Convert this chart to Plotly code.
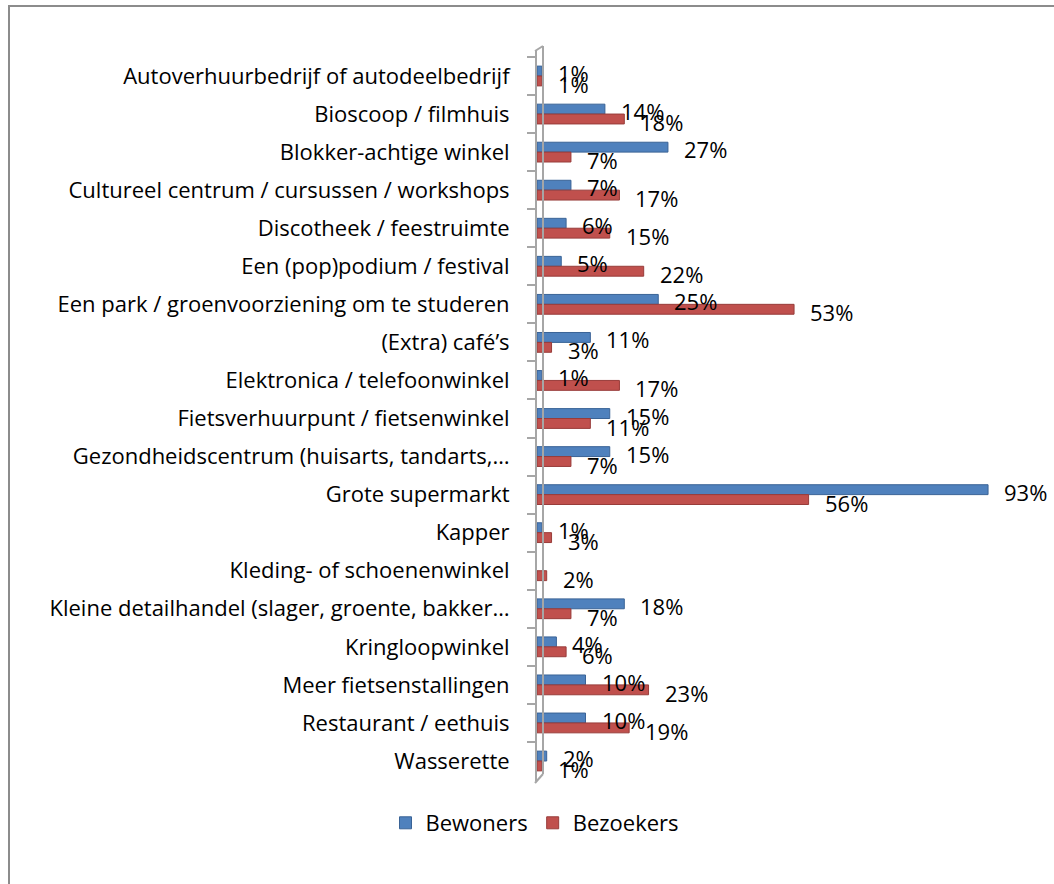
import plotly.graph_objects as go

categories = [
    "Autoverhuurbedrijf of autodeelbedrijf",
    "Bioscoop / filmhuis",
    "Blokker-achtige winkel",
    "Cultureel centrum / cursussen / workshops",
    "Discotheek / feestruimte",
    "Een (pop)podium / festival",
    "Een park / groenvoorziening om te studeren",
    "(Extra) café’s",
    "Elektronica / telefoonwinkel",
    "Fietsverhuurpunt / fietsenwinkel",
    "Gezondheidscentrum (huisarts, tandarts,…",
    "Grote supermarkt",
    "Kapper",
    "Kleding- of schoenenwinkel",
    "Kleine detailhandel (slager, groente, bakker…",
    "Kringloopwinkel",
    "Meer fietsenstallingen",
    "Restaurant / eethuis",
    "Wasserette",
]
bewoners = [1, 14, 27, 7, 6, 5, 25, 11, 1, 15, 15, 93, 1, None, 18, 4, 10, 10, 2]
bezoekers = [1, 18, 7, 17, 15, 22, 53, 3, 17, 11, 7, 56, 3, 2, 7, 6, 23, 19, 1]

BLUE = "#4F81BD"
RED = "#C0504D"
FONT = "Open Sans"
FSIZE = 22

# plot area in pixels (used to place the frame / wall shapes)
L, R, T, B = 537, 1022, 51, 781
W, H = 1054, 884


def px(x):
    return (x - L) / (R - L)


def py(y):
    return (B - y) / (B - T)


fig = go.Figure()
fig.add_trace(go.Bar(
    name="Bewoners", y=categories, x=bewoners, orientation="h",
    marker=dict(color=BLUE, line=dict(color="#3A6396", width=1)),
))
fig.add_trace(go.Bar(
    name="Bezoekers", y=categories, x=bezoekers, orientation="h",
    marker=dict(color=RED, line=dict(color="#983C3A", width=1)),
))

annotations = []
for cat, v in zip(categories, bewoners):
    if v is None:
        continue
    annotations.append(dict(x=v, y=cat, text=f"{v}%", showarrow=False,
                            xanchor="left", xshift=14, yshift=3,
                            font=dict(size=FSIZE, color="black", family=FONT)))
for cat, v in zip(categories, bezoekers):
    annotations.append(dict(x=v, y=cat, text=f"{v}%", showarrow=False,
                            xanchor="left", xshift=14, yshift=-8,
                            font=dict(size=FSIZE, color="black", family=FONT)))

wall = dict(color="#A6A6A6", width=2)
shapes = [
    # outer chart frame
    dict(type="rect", xref="paper", yref="paper",
         x0=px(9), x1=px(W + 10), y0=py(H + 10), y1=py(6),
         line=dict(color="#8C8C8C", width=2), fillcolor="rgba(0,0,0,0)", layer="below"),
    # 3D wall: back line and connecting diagonals
    dict(type="line", xref="paper", yref="paper",
         x0=px(543), x1=px(543), y0=py(774), y1=py(46), line=wall),
    dict(type="line", xref="paper", yref="paper",
         x0=px(535), x1=px(543), y0=py(T), y1=py(46), line=wall),
    dict(type="line", xref="paper", yref="paper",
         x0=px(535), x1=px(543), y0=py(B + 2), y1=py(774), line=wall),
]

fig.update_layout(
    barmode="group",
    bargap=0.48,
    bargroupgap=0,
    width=W, height=H,
    margin=dict(l=L, r=W - R, t=T, b=H - B),
    paper_bgcolor="white",
    plot_bgcolor="white",
    font=dict(family=FONT, size=FSIZE, color="black"),
    annotations=annotations,
    shapes=shapes,
    showlegend=True,
    legend=dict(orientation="h", x=px(535), xanchor="center", y=py(823), yanchor="middle",
                font=dict(size=FSIZE, family=FONT), itemwidth=30, traceorder="normal"),
)

fig.update_xaxes(range=[0, 100], visible=False, showgrid=False, zeroline=False)
fig.update_yaxes(
    autorange="reversed", type="category",
    showline=True, linecolor="#A6A6A6", linewidth=2,
    ticks="outside", tickson="boundaries", ticklen=8, tickcolor="#A6A6A6", tickwidth=2,
    ticklabelstandoff=21, showgrid=False,
    tickfont=dict(size=FSIZE, family=FONT, color="black"),
)

fig.write_html("out.html", config={"displayModeBar": False},
               post_script="document.body.style.margin='0';")
